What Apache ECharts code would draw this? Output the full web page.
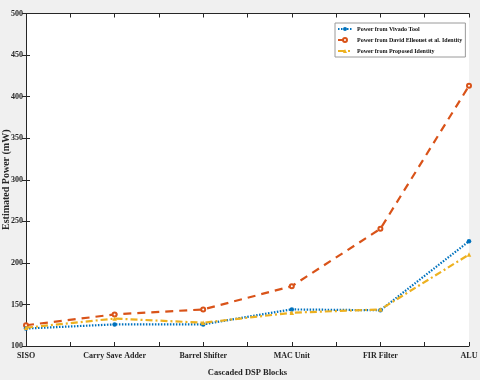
<!DOCTYPE html>
<html><head><meta charset="utf-8">
<script src="https://cdn.jsdelivr.net/npm/echarts@6/dist/echarts.min.js"></script>
<style>html,body{margin:0;padding:0;background:#f0f0f0}#c{width:480px;height:380px}</style>
</head><body><div id="c"></div>
<script>
const categories = ['SISO', 'Carry Save Adder', 'Barrel Shifter', 'MAC Unit', 'FIR Filter', 'ALU'];
const vivado = [121, 126, 126, 144, 143, 226];
const elleouet = [125, 138, 144, 172, 241, 413];
const proposed = [122, 133, 128, 140, 144, 210];
const yTicks = [100, 150, 200, 250, 300, 350, 400, 450, 500];
const seriesNames = ['Power from Vivado Tool', 'Power from David Elleouet et al. Identity', 'Power from Proposed Identity'];

const font = 'Liberation Serif';
const axisCol = '#262626';
const toPts = arr => arr.map((v, i) => [i, v]);

const chart = echarts.init(document.getElementById('c'), null, {renderer: 'canvas'});
const xCommon = {
  type: 'value', min: 0, max: categories.length - 1, interval: 0.5,
  axisLine: {show: true, lineStyle: {color: axisCol, width: 1}},
  axisTick: {show: true, inside: true, length: 4, lineStyle: {color: axisCol}},
  splitLine: {show: false}
};
const yCommon = {
  type: 'value', min: yTicks[0], max: yTicks[yTicks.length - 1], interval: 50,
  axisLine: {show: true, lineStyle: {color: axisCol, width: 1}},
  axisTick: {show: true, inside: true, length: 4, lineStyle: {color: axisCol}},
  splitLine: {show: false}
};
chart.setOption({
  backgroundColor: '#f0f0f0',
  animation: false,
  grid: {left: 26, right: 11, top: 13.5, bottom: 34, show: true, backgroundColor: '#ffffff', borderWidth: 0,
         containLabel: false, outerBoundsMode: 'none'},
  legend: {
    show: true, orient: 'vertical', left: 335, top: 23,
    itemWidth: 14, itemHeight: 5, itemGap: 5,
    padding: [3, 3, 3, 2],
    backgroundColor: '#ffffff', borderColor: '#9a9a9a', borderWidth: 1,
    textStyle: {fontFamily: font, fontWeight: 'bold', fontSize: 6, color: '#111'},
    data: seriesNames
  },
  xAxis: [
    Object.assign({}, xCommon, {
      position: 'bottom',
      name: 'Cascaded DSP Blocks', nameLocation: 'middle', nameGap: 22, nameMoveOverlap: false,
      nameTextStyle: {fontFamily: font, fontWeight: 'bold', fontSize: 8.5, color: '#262626'},
      axisLabel: {
        show: true, margin: 6, fontFamily: font, fontWeight: 'bold', fontSize: 8, color: '#262626',
        formatter: v => Number.isInteger(v) ? categories[v] : '',
        showMinLabel: true, showMaxLabel: true, hideOverlap: false
      }
    }),
    Object.assign({}, xCommon, {position: 'top', axisLabel: {show: false}})
  ],
  yAxis: [
    Object.assign({}, yCommon, {
      position: 'left',
      name: 'Estimated Power (mW)', nameLocation: 'middle', nameGap: 15, nameMoveOverlap: false,
      nameTextStyle: {fontFamily: font, fontWeight: 'bold', fontSize: 10, color: '#262626'},
      axisLabel: {show: true, margin: 3, fontFamily: font, fontWeight: 'bold', fontSize: 8, color: '#262626'}
    }),
    Object.assign({}, yCommon, {position: 'right', axisLabel: {show: false}})
  ],
  series: [
    {
      name: seriesNames[0], type: 'line', data: toPts(vivado),
      symbol: 'circle', symbolSize: 4.5,
      itemStyle: {color: '#0072BD'},
      lineStyle: {color: '#0072BD', width: 2.2, type: [1.5, 1.5]},
      z: 3
    },
    {
      name: seriesNames[1], type: 'line', data: toPts(elleouet),
      symbol: 'emptyCircle', symbolSize: 4,
      itemStyle: {color: '#D95319', borderWidth: 1.5},
      lineStyle: {color: '#D95319', width: 2.2, type: [8, 6]},
      z: 2
    },
    {
      name: seriesNames[2], type: 'line', data: toPts(proposed),
      symbol: 'triangle', symbolSize: 4.5,
      itemStyle: {color: '#EDB120'},
      lineStyle: {color: '#EDB120', width: 2.2, type: [7, 3, 2, 3]},
      z: 4
    }
  ]
});
</script></body></html>
